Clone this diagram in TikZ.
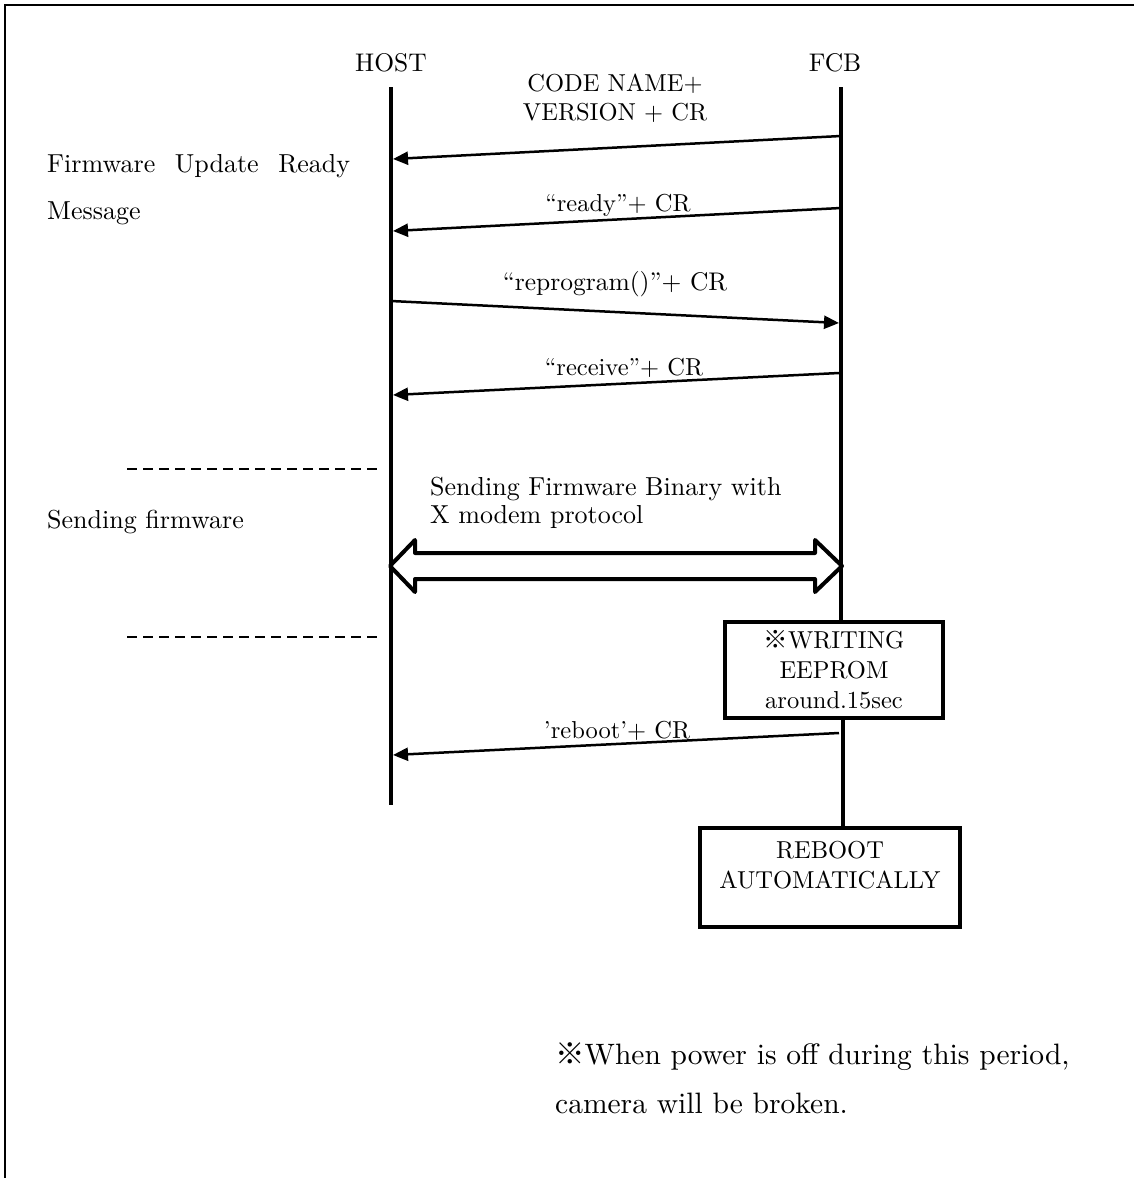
\documentclass[tikz,border=0pt]{standalone}
\usepackage{fontspec}
\setmainfont{lmroman10-regular.otf}
\newfontfamily\cjkfont{Noto Sans CJK JP}
\usetikzlibrary{arrows.meta,calc}
\newcommand\kome{{\cjkfont ※}}
\begin{document}
\begin{tikzpicture}[x=1pt,y=-1pt,
  every node/.style={inner sep=0pt, font=\fontsize{24.5}{29}\selectfont},
  actor/.style={font=\fontsize{25.5}{30}\selectfont, anchor=base},
  life/.style={line width=4pt},
  msg/.style={line width=2.5pt, -{Triangle[length=15pt,width=13pt]}},
  lbl/.style={anchor=base, align=center},
  side/.style={anchor=base west, font=\fontsize{26}{30}\selectfont},
  sep/.style={line width=2pt, dash pattern=on 10pt off 6pt},
  stepbox/.style={draw, line width=4.5pt, align=center, font=\fontsize{24.5}{30}\selectfont},
  dbl/.style={line width=4pt, line join=round},
  note/.style={anchor=base west, font=\fontsize{29.5}{35}\selectfont}]
\useasboundingbox (0,0) rectangle (1134,1178);
% frame
\draw[line width=2pt] (5,1178) -- (5,5) -- (1134,5);
% actors
\node[actor] (host) at (391,71) {HOST};
\node[actor] (fcb) at (835,71) {FCB};
% lifeline coordinates
\coordinate (h0) at (391,87);
\coordinate (h1) at (391,805);
\coordinate (f0) at (841,87);
\coordinate (f1) at (843,740);
% boxes
\node[stepbox, minimum width=218pt, minimum height=96pt] (wbox) at (834,670)
  {\kome WRITING\\EEPROM\\around.15sec};
\node[stepbox, minimum width=260pt, minimum height=99pt] (rbox) at (830,877.5)
  {REBOOT\\AUTOMATICALLY\\[-14pt]\strut};
% lifelines
\draw[life] (h0) -- (h1);
\draw[life] (f0) -- (f0 |- wbox.north);
\draw[life] (f1 |- wbox.south) -- (f1 |- rbox.north);
% messages
\coordinate (m1s) at (841,136); \coordinate (m1e) at (393,159);
\coordinate (m2s) at (841,208); \coordinate (m2e) at (393,231);
\coordinate (m3s) at (391,301); \coordinate (m3e) at (839,323);
\coordinate (m4s) at (839,373); \coordinate (m4e) at (393,395);
\coordinate (m5s) at (839,733); \coordinate (m5e) at (393,755);
\draw[msg] (m1s) -- (m1e);
\draw[msg] (m2s) -- (m2e);
\draw[msg] (m3s) -- (m3e);
\draw[msg] (m4s) -- (m4e);
\draw[msg] (m5s) -- (m5e);
\node[lbl] (l1) at (615,120) {CODE NAME+\\VERSION + CR};
\node[lbl] (l2) at (618,211) {“ready”+ CR};
\node[lbl, font=\fontsize{25.5}{29}\selectfont] (l3) at (615,290) {“reprogram()”+ CR};
\node[lbl] (l4) at (624,375) {“receive”+ CR};
\node[lbl] (l5) at (617,738) {’reboot’+ CR};
% double arrow (X modem)
\coordinate (dl) at (390,566);
\coordinate (dr) at (842,566);
\draw[dbl] (dl) -- ($(dl)+(25,-26)$) -- ($(dl)+(25,-13)$) -- ($(dr)+(-27,-13)$)
  -- ($(dr)+(-27,-26)$) -- (dr) -- ($(dr)+(-27,26)$) -- ($(dr)+(-27,13)$)
  -- ($(dl)+(25,13)$) -- ($(dl)+(25,26)$) -- cycle;
\node[side] (xm1) at (430,495) {Sending Firmware Binary with};
\node[side] (xm2) at (430,523) {X modem protocol};
% side labels
\node[side] (fur) at (47,172) {\hbox to 303pt{Firmware\hfill Update\hfill Ready}};
\node[side] (furm) at (47,219) {Message};
\node[side] (sfw) at (47,528) {Sending firmware};
\coordinate (s1a) at (127,469); \coordinate (s1b) at (377,469);
\coordinate (s2a) at (127,637); \coordinate (s2b) at (377,637);
\draw[sep] (s1a) -- (s1b);
\draw[sep] (s2a) -- (s2b);
% note
\node[note] (n1) at (555,1064) {\kome When power is off during this period,};
\node[note] (n2) at (555,1113) {camera will be broken.};
\end{tikzpicture}
\end{document}
